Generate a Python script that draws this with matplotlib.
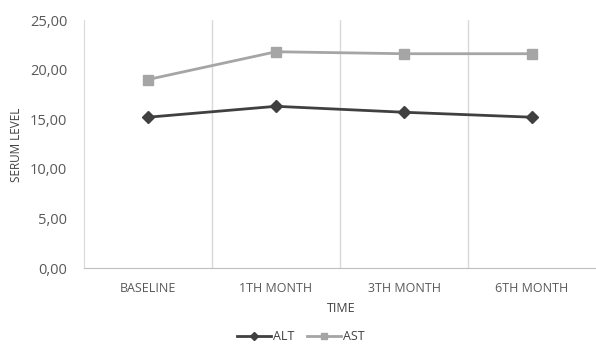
import matplotlib
matplotlib.use("Agg")
import matplotlib.pyplot as plt
from matplotlib.ticker import FuncFormatter

plt.rcParams['font.family'] = ['Open Sans', 'DejaVu Sans']

timepoints = ["BASELINE", "1TH MONTH", "3TH MONTH", "6TH MONTH"]
alt_values = [15.2, 16.3, 15.7, 15.2]
ast_values = [19.0, 21.8, 21.6, 21.6]
y_ticks = [0, 5, 10, 15, 20, 25]

fig = plt.figure(figsize=(5.96, 3.45), dpi=100)
ax = fig.add_axes([84 / 596, 1 - 268 / 345, (596 - 84) / 596, (268 - 20) / 345])

x = list(range(len(timepoints)))
ax.plot(x, alt_values, color='#404040', lw=2, marker='D', ms=6.5, label='ALT', zorder=3)
ax.plot(x, ast_values, color='#a5a5a5', lw=2, marker='s', ms=6.5, label='AST', zorder=3)

ax.set_xlim(-0.5, len(timepoints) - 0.5)
ax.set_ylim(0, 25)
ax.set_yticks(y_ticks)
ax.yaxis.set_major_formatter(FuncFormatter(lambda v, p: f"{v:.2f}".replace('.', ',')))
ax.set_xticks(x)
ax.set_xticklabels(timepoints)

# vertical separators between the time points
for b in [0.5, 1.5, 2.5]:
    ax.axvline(b, color='#d9d9d9', lw=1, zorder=1)

for side in ['top', 'right']:
    ax.spines[side].set_visible(False)
ax.spines['left'].set_color('#d9d9d9')
ax.spines['bottom'].set_color('#bfbfbf')
ax.tick_params(axis='both', length=0, colors='#595959')
ax.tick_params(axis='x', pad=10, labelsize=9)
ax.tick_params(axis='y', pad=12, labelsize=10.5)

fig.text(17 / 596, 1 - 145 / 345, 'SERUM LEVEL', rotation=90, ha='center', va='center',
         fontsize=8.5, color='#404040')
fig.text(341 / 596, 1 - 308 / 345, 'TIME', ha='center', va='center', fontsize=9, color='#404040')

fig.legend(loc='center', bbox_to_anchor=(301 / 596, 1 - 337 / 345), ncol=2, frameon=False,
           fontsize=9, handlelength=2.7, columnspacing=1.0, handletextpad=0.2,
           markerscale=0.6, labelcolor='#404040')

fig.savefig('out.png', dpi=100)
